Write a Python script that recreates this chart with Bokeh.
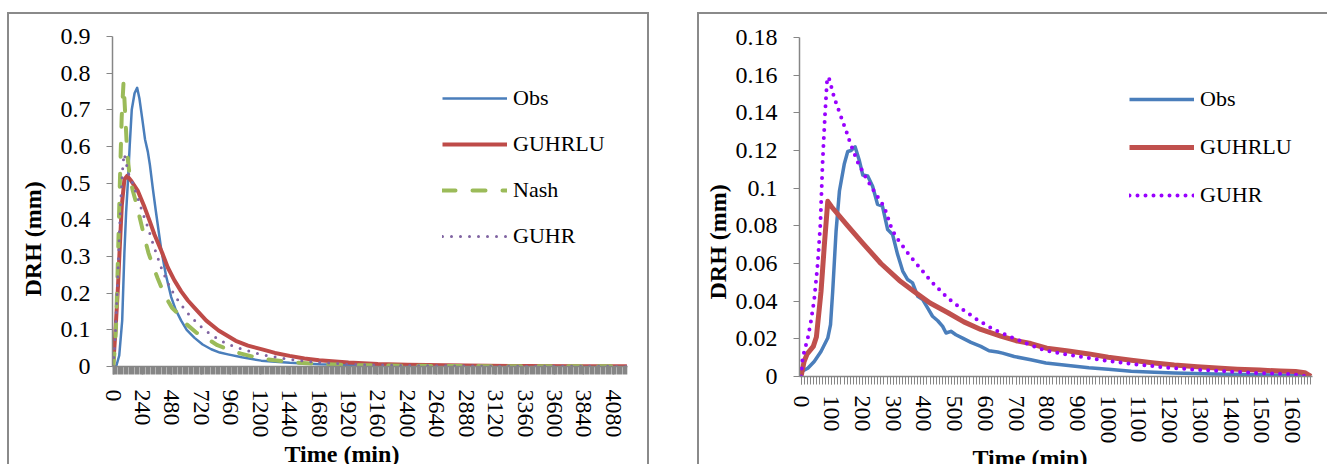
from bokeh.plotting import figure
from bokeh.layouts import row
from bokeh.models import Range1d, FixedTicker, Legend, LegendItem, Title
from bokeh.embed import file_html
from bokeh.resources import INLINE

# ---------------- Left chart data (time in min, DRH in mm) ----------------
L_obs_t = [0, 25, 50, 74, 92, 106, 120, 135, 152, 175, 196, 215, 240, 260, 283, 300, 324, 350, 392, 430,
           473, 510, 555, 600, 664, 730, 800, 870, 936, 1050, 1208, 1440, 1680, 1920, 2400, 3000, 3600, 4190]
L_obs = [0, 0.0, 0.03, 0.125, 0.31, 0.42, 0.5, 0.6, 0.7, 0.745, 0.76, 0.73, 0.67, 0.62, 0.586, 0.55, 0.485, 0.42, 0.32, 0.25,
         0.19, 0.155, 0.125, 0.1, 0.078, 0.06, 0.047, 0.038, 0.033, 0.025, 0.016, 0.01, 0.006, 0.004, 0.002, 0.001, 0.0005, 0.0003]

L_lu_t = [0, 10, 24, 40, 52, 71, 92, 114, 150, 200, 250, 300, 337, 400, 446, 500, 555, 610, 664, 760, 860,
          1000, 1100, 1223, 1320, 1440, 1560, 1680, 1920, 2160, 2400, 2880, 3360, 3840, 4190]
L_lu = [0, 0.05, 0.125, 0.22, 0.31, 0.44, 0.51, 0.52, 0.505, 0.48, 0.44, 0.395, 0.36, 0.31, 0.27, 0.235, 0.205, 0.18, 0.16, 0.125, 0.098,
        0.07, 0.057, 0.046, 0.037, 0.029, 0.022, 0.017, 0.011, 0.007, 0.005, 0.0025, 0.0012, 0.0006, 0.0004]

L_nash_t = [0, 15, 25, 40, 55, 70, 85, 100, 115, 135, 160, 185, 207, 250, 288, 330, 364, 420, 480, 528, 600, 680,
            772, 850, 950, 1044, 1200, 1440, 1680, 1920, 2400, 3000, 4190]
L_nash = [0, 0.05, 0.12, 0.3, 0.5, 0.68, 0.775, 0.68, 0.58, 0.52, 0.48, 0.45, 0.42, 0.36, 0.31, 0.27, 0.24, 0.195, 0.16, 0.145, 0.115, 0.092,
          0.075, 0.058, 0.045, 0.035, 0.022, 0.012, 0.007, 0.004, 0.002, 0.001, 0.0005]

L_guhr_t = [0, 10, 20, 35, 50, 65, 80, 90, 105, 120, 160, 201, 240, 283, 330, 392, 430, 473, 540, 609, 680, 745,
            810, 881, 960, 1044, 1200, 1440, 1680, 1920, 2160, 2400, 3000, 3600, 4190]
L_guhr = [0, 0.04, 0.1, 0.22, 0.35, 0.47, 0.55, 0.58, 0.56, 0.53, 0.5, 0.46, 0.42, 0.38, 0.33, 0.27, 0.24, 0.21, 0.175, 0.145, 0.12, 0.1,
          0.085, 0.07, 0.058, 0.048, 0.033, 0.019, 0.011, 0.006, 0.004, 0.0025, 0.001, 0.0005, 0.0003]

L_xticks = list(range(0, 4081, 240))
L_yticks = [0, 0.1, 0.2, 0.3, 0.4, 0.5, 0.6, 0.7, 0.8, 0.9]
L_ylabels = ["0", "0.1", "0.2", "0.3", "0.4", "0.5", "0.6", "0.7", "0.8", "0.9"]

# ---------------- Right chart data ----------------
R_obs_t = [0, 5, 22, 43, 65, 87, 96, 103, 114, 125, 141, 152, 163, 176, 190, 201, 217, 233, 249, 265, 282, 298,
           314, 331, 347, 363, 380, 396, 412, 428, 445, 461, 472, 488, 504, 526, 553, 585, 612, 640, 656, 694,
           748, 797, 870, 937, 1000, 1075, 1150, 1215, 1350, 1493, 1600, 1660]
R_obs = [0.002, 0.003, 0.0044, 0.008, 0.0133, 0.0204, 0.0275, 0.045, 0.077, 0.0985, 0.113, 0.1195, 0.12, 0.122, 0.1145,
         0.107, 0.1065, 0.101, 0.0914, 0.0905, 0.078, 0.0754, 0.065, 0.056, 0.0515, 0.0497, 0.0426, 0.0408, 0.0364,
         0.032, 0.0296, 0.0266, 0.0231, 0.024, 0.0222, 0.0204, 0.0181, 0.016, 0.0137, 0.013, 0.0124, 0.0106,
         0.0089, 0.0072, 0.0058, 0.0046, 0.0038, 0.0028, 0.0022, 0.0018, 0.0013, 0.0009, 0.0007, 0.0005]

R_lu_t = [0, 10, 20, 40, 50, 65, 76, 87, 100, 152, 200, 260, 320, 369, 420, 477, 530, 585, 650, 700, 748, 800,
          870, 937, 1000, 1075, 1150, 1215, 1290, 1354, 1420, 1493, 1560, 1610, 1640, 1660]
R_lu = [0, 0.008, 0.012, 0.016, 0.021, 0.045, 0.07, 0.093, 0.09, 0.08, 0.071, 0.06, 0.051, 0.045, 0.039, 0.034,
        0.029, 0.025, 0.0215, 0.019, 0.0175, 0.015, 0.0135, 0.012, 0.0102, 0.0086, 0.0072, 0.0061, 0.0052, 0.0045,
        0.0039, 0.0034, 0.0029, 0.0026, 0.002, 0.0]

R_guhr_t = [0, 5, 22, 33, 43, 54, 63, 70, 78, 85, 90, 100, 108, 119, 130, 150, 160, 184, 211, 239, 271, 296, 314,
            350, 369, 423, 477, 524, 577, 629, 686, 743, 797, 870, 937, 1000, 1075, 1150, 1215, 1290, 1354, 1420,
            1493, 1603, 1650]
R_guhr = [0, 0.0098, 0.0204, 0.03, 0.041, 0.0595, 0.081, 0.113, 0.139, 0.158, 0.159, 0.153, 0.148, 0.143, 0.138,
          0.129, 0.124, 0.114, 0.1056, 0.098, 0.09, 0.078, 0.073, 0.065, 0.0612, 0.0506, 0.0417, 0.0358, 0.0298,
          0.0248, 0.0208, 0.0169, 0.0137, 0.0115, 0.0098, 0.0082, 0.0067, 0.0054, 0.0044, 0.0036, 0.003, 0.0024,
          0.0018, 0.0012, 0.0]

R_xticks = list(range(0, 1601, 100))
R_yticks = [0, 0.02, 0.04, 0.06, 0.08, 0.1, 0.12, 0.14, 0.16, 0.18]
R_ylabels = ["0", "0.02", "0.04", "0.06", "0.08", "0.1", "0.12", "0.14", "0.16", "0.18"]

FONT = "Liberation Serif"
GREY = "#868686"
BORDER = "2px solid #8a8a8a"


def make_fig(width, height, xr, yr, mbl, mbr, mbt, mbb, xticks, minor_end, yticks, ylabels, xstandoff, tick_w):
    p = figure(width=width, height=height, x_range=Range1d(*xr), y_range=Range1d(*yr),
               output_backend="svg", toolbar_location=None,
               min_border_left=mbl, min_border_right=mbr, min_border_top=mbt, min_border_bottom=mbb)
    p.frame_align = False
    p.outline_line_color = None
    p.xgrid.visible = False
    p.ygrid.visible = False
    p.background_fill_color = "white"
    p.border_fill_color = "white"

    xa = p.xaxis[0]
    xa.ticker = FixedTicker(ticks=xticks, minor_ticks=list(range(0, minor_end + 1, 10)))
    xa.major_label_orientation = "vertical"
    xa.axis_line_color = GREY
    xa.axis_line_width = 1.5
    xa.major_tick_line_color = GREY
    xa.minor_tick_line_color = GREY
    xa.major_tick_line_width = tick_w
    xa.minor_tick_line_width = tick_w
    xa.major_tick_out = 8
    xa.major_tick_in = 0
    xa.minor_tick_out = 8
    xa.minor_tick_in = 0
    xa.axis_label_standoff = 0
    xa.major_label_standoff = xstandoff
    xa.major_label_text_font = FONT
    xa.major_label_text_font_size = "24px"
    xa.major_label_text_color = "black"

    ya = p.yaxis[0]
    ya.ticker = FixedTicker(ticks=yticks, minor_ticks=[])
    ya.major_label_overrides = {v: s for v, s in zip(yticks, ylabels)}
    ya.axis_line_color = GREY
    ya.axis_line_width = 1.5
    ya.major_tick_line_color = GREY
    ya.major_tick_out = 6
    ya.major_tick_in = 0
    ya.minor_tick_line_color = None
    ya.axis_label_standoff = 0
    ya.major_label_standoff = 16
    ya.major_label_text_font = FONT
    ya.major_label_text_font_size = "24px"
    ya.major_label_text_color = "black"
    return p


def add_titles(p, x_off, x_standoff, y_off, y_valign, y_standoff):
    p.add_layout(Title(text="Time (min)", align="left", offset=x_off, vertical_align="top",
                       standoff=x_standoff, text_font=FONT, text_font_size="24px",
                       text_font_style="bold", text_color="black"), "below")
    p.add_layout(Title(text="DRH (mm)", align="left", offset=y_off, vertical_align=y_valign,
                       standoff=y_standoff, text_font=FONT, text_font_size="24px",
                       text_font_style="bold", text_color="black"), "left")


def add_legend(p, items, loc, spacing):
    lg = Legend(items=items, location=loc, glyph_width=65, glyph_height=20, label_height=20,
                spacing=spacing, padding=0, margin=0, label_standoff=6,
                border_line_color=None, background_fill_alpha=0,
                label_text_font=FONT, label_text_font_size="22px", label_text_color="black")
    p.add_layout(lg)


# ---------------- Left figure ----------------
LXR = (-5, 4195)
LYR = (0, 0.9)
p1 = make_fig(642, 465, LXR, LYR, 103, 24, 22, 112, L_xticks, 4190, L_yticks, L_ylabels, 15, 1.6)
r1 = p1.line(L_obs_t, L_obs, line_color="#4A7EBB", line_width=2.5, line_join="round")
r2 = p1.line(L_lu_t, L_lu, line_color="#BE4B48", line_width=4, line_join="round")
r3 = p1.line(L_nash_t, L_nash, line_color="#9BBB59", line_width=4, line_dash="13 17", line_cap="round",
             line_join="round")
r4 = p1.line(L_guhr_t, L_guhr, line_color="#8064A2", line_width=3, line_dash="0 9", line_cap="round",
             line_join="round")
add_legend(p1, [LegendItem(label="Obs", renderers=[r1]), LegendItem(label="GUHRLU", renderers=[r2]),
                LegendItem(label="Nash", renderers=[r3]), LegendItem(label="GUHR", renderers=[r4])],
           (330, 117), 20)
add_titles(p1, 172, 0, 70, "top", 20)
p1.margin = (12, 0, 0, 7)
p1.styles = {"border-top": BORDER, "border-left": BORDER, "border-right": BORDER}

# ---------------- Right figure ----------------
RXR = (-5, 1665)
RYR = (0, 0.18)
p2 = make_fig(630, 465, RXR, RYR, 100, 17, 23, 102, R_xticks, 1660, R_yticks, R_ylabels, 11, 1)
s1 = p2.line(R_obs_t, R_obs, line_color="#4A7EBB", line_width=3.5, line_join="round")
s2 = p2.line(R_lu_t, R_lu, line_color="#C0504D", line_width=5, line_join="round")
s3 = p2.line(R_guhr_t, R_guhr, line_color="#9900FF", line_width=4, line_dash="0 8", line_cap="round",
             line_join="round")
add_legend(p2, [LegendItem(label="Obs", renderers=[s1]), LegendItem(label="GUHRLU", renderers=[s2]),
                LegendItem(label="GUHR", renderers=[s3])], (330, 168), 22)
add_titles(p2, 173, -4, 77, "bottom", 4)
p2.margin = (12, 0, 0, 48)
p2.styles = {"border-top": BORDER, "border-left": BORDER}

layout = row(p1, p2, height=464, styles={"overflow": "hidden"})
open("out.html", "w").write(file_html(layout, INLINE))
